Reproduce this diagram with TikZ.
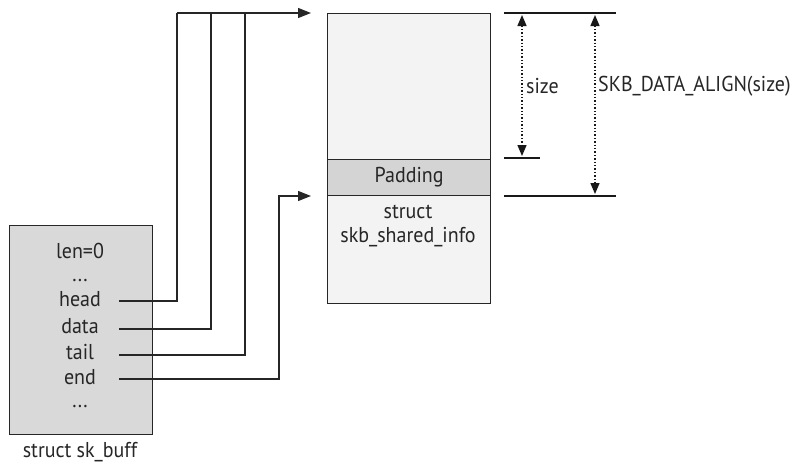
\documentclass[tikz,border=0pt]{standalone}
\usepackage{fontspec}
\setmainfont[FakeStretch=0.93]{PT Sans}
\usetikzlibrary{arrows.meta}
\definecolor{skbfill}{HTML}{D9D9D9}
\definecolor{buffill}{HTML}{F3F3F3}
\definecolor{padfill}{HTML}{D4D4D4}
\begin{document}
\begin{tikzpicture}[x=1pt,y=-1pt,
  lbl/.style={inner sep=0pt, font=\fontsize{21.5}{24}\selectfont, text=black!85},
  box/.style={draw=black!85, line width=1.3pt, inner sep=0pt, anchor=north west},
  link/.style={draw=black!85, line width=1.3pt, -{Triangle[length=13pt,width=10pt]}},
  rule/.style={draw=black!90, line width=2pt},
  dim/.style={draw=black!90, line width=1.4pt, dotted, {Triangle[length=11pt,width=9pt]}-{Triangle[length=11pt,width=9pt]}}]
\useasboundingbox (0,0) rectangle (796,466);
% sk_buff
\node[box, fill=skbfill, minimum width=143pt, minimum height=209pt] (skb) at (9,225) {};
\node[lbl] (len) at (80,251) {len=0};
\node[lbl] (dots1) at (80,281) {...};
\node[lbl] (head) at (80,299) {head};
\node[lbl] (data) at (80,326) {data};
\node[lbl] (tail) at (80,352) {tail};
\node[lbl] (end) at (80,377) {end};
\node[lbl] (dots2) at (80,407) {...};
\node[lbl] (skbname) at (80,452) {struct sk\_buff};
% data buffer
\node[box, fill=buffill, minimum width=163pt, minimum height=290pt] (buf) at (327,13) {};
\node[box, fill=padfill, minimum width=163pt, minimum height=36pt] (pad) at (327,159) {};
\node[lbl] at (pad.center) {Padding};
\node[lbl, align=center] (shinfo) at (408,226) {struct\\skb\_shared\_info};
% pointer connectors
\coordinate (headp) at (119,301);
\coordinate (datap) at (119,329);
\coordinate (tailp) at (119,355);
\coordinate (endp) at (119,379);
\coordinate (toptip) at (311,13);
\coordinate (endtip) at (311,196);
\draw[draw=black!85, line width=1.3pt] (headp) -| (177,13);
\draw[draw=black!85, line width=1.3pt] (datap) -| (211,13);
\draw[draw=black!85, line width=1.3pt] (tailp) -| (245,13);
\draw[link] (177,13) -- (toptip);
\draw[link] (endp) -| (279,196) -- (endtip);
% dimension marks
\coordinate (t1) at (504,13); \coordinate (t2) at (616,13);
\coordinate (m1) at (504,158); \coordinate (m2) at (540,158);
\coordinate (b1) at (504,196); \coordinate (b2) at (616,196);
\draw[rule] (t1) -- (t2);
\draw[rule] (m1) -- (m2);
\draw[rule] (b1) -- (b2);
\coordinate (s1) at (522,15); \coordinate (s2) at (522,156);
\coordinate (a1) at (595,15); \coordinate (a2) at (595,194);
\draw[dim] (s1) -- (s2);
\draw[dim] (a1) -- (a2);
\node[lbl, anchor=west] (size) at (526,86) {size};
\node[lbl, anchor=west] (align) at (598,86) {SKB\_DATA\_ALIGN(size)};
\end{tikzpicture}
\end{document}
